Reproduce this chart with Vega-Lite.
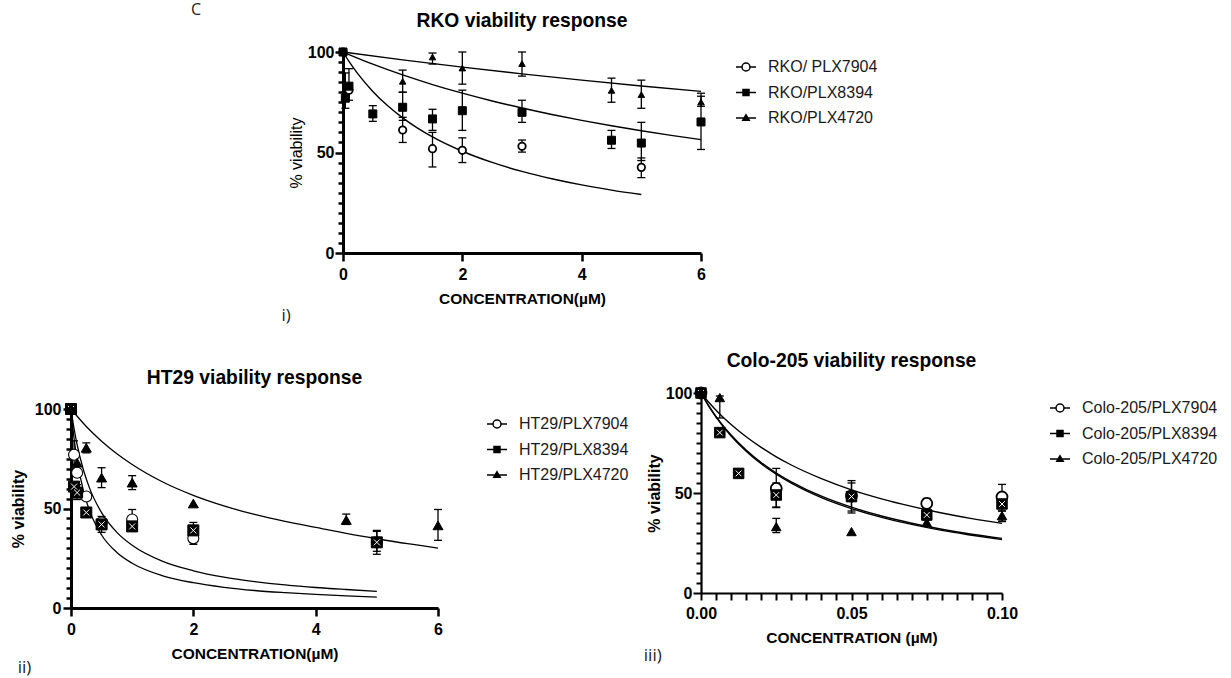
{
 "$schema": "https://vega.github.io/schema/vega-lite/v6.json",
 "background": "white",
 "padding": {"left": 10, "top": 2, "right": 0, "bottom": 0},
 "autosize": {"type": "pad"},
 "spacing": 28,
 "resolve": {"scale": {"fill": "independent"}},
 "config": {
  "view": {"stroke": null},
  "font": "Liberation Sans",
  "axis": {"domainColor": "black", "domainWidth": 3, "tickColor": "black", "tickWidth": 2.5, "labelColor": "black", "labelFont": "Liberation Sans", "labelFontWeight": "bold", "labelFontSize": 16, "titleColor": "black", "titleFont": "Liberation Sans", "titleFontWeight": "bold", "titleFontSize": 15.5, "grid": false, "labelFlush": false, "labelOverlap": false},
  "title": {"font": "Liberation Sans", "fontSize": 19.3, "fontWeight": "bold", "color": "black", "anchor": "middle", "frame": "group", "offset": 12.5},
  "legend": {"padding": 4, "symbolSize": 400, "labelOffset": 11, "rowPadding": 6.5, "labelFont": "Liberation Sans", "labelFontSize": 16, "labelColor": "#1a1a1a", "symbolStrokeColor": "black", "symbolStrokeWidth": 1.5, "symbolOpacity": 1}
 },
 "datasets": {
  "rko_pts": [
   {"s": "RKO/ PLX7904", "x": 0, "y": 100},
   {"s": "RKO/ PLX7904", "x": 0.1, "y": 81},
   {"s": "RKO/ PLX7904", "x": 1, "y": 61.2, "lo": 55, "hi": 67.5},
   {"s": "RKO/ PLX7904", "x": 1.5, "y": 51.9, "lo": 42.8, "hi": 60},
   {"s": "RKO/ PLX7904", "x": 2, "y": 51.1, "lo": 45, "hi": 57.3},
   {"s": "RKO/ PLX7904", "x": 3, "y": 53.1, "lo": 50.2, "hi": 56.2},
   {"s": "RKO/ PLX7904", "x": 5, "y": 42.6, "lo": 37.5, "hi": 47.3},
   {"s": "RKO/PLX8394", "x": 0, "y": 100},
   {"s": "RKO/PLX8394", "x": 0.04, "y": 77, "lo": 72, "hi": 89.6},
   {"s": "RKO/PLX8394", "x": 0.1, "y": 83, "lo": 76, "hi": 91.7},
   {"s": "RKO/PLX8394", "x": 0.5, "y": 69.2, "lo": 65.5, "hi": 73.3},
   {"s": "RKO/PLX8394", "x": 1, "y": 72.5, "lo": 66, "hi": 80},
   {"s": "RKO/PLX8394", "x": 1.5, "y": 66.7, "lo": 61, "hi": 71.5},
   {"s": "RKO/PLX8394", "x": 2, "y": 70.8, "lo": 61, "hi": 81},
   {"s": "RKO/PLX8394", "x": 3, "y": 70, "lo": 65, "hi": 76},
   {"s": "RKO/PLX8394", "x": 4.5, "y": 56.1, "lo": 52, "hi": 61},
   {"s": "RKO/PLX8394", "x": 5, "y": 54.7, "lo": 46, "hi": 65},
   {"s": "RKO/PLX8394", "x": 6, "y": 65.2, "lo": 51.5, "hi": 79.5},
   {"s": "RKO/PLX4720", "x": 0, "y": 100},
   {"s": "RKO/PLX4720", "x": 1, "y": 85.4, "lo": 80, "hi": 91},
   {"s": "RKO/PLX4720", "x": 1.5, "y": 97.5, "lo": 94, "hi": 99.5},
   {"s": "RKO/PLX4720", "x": 2, "y": 92, "lo": 84, "hi": 100},
   {"s": "RKO/PLX4720", "x": 3, "y": 94.2, "lo": 88, "hi": 100},
   {"s": "RKO/PLX4720", "x": 4.5, "y": 80.9, "lo": 75, "hi": 87},
   {"s": "RKO/PLX4720", "x": 5, "y": 78.8, "lo": 72, "hi": 86},
   {"s": "RKO/PLX4720", "x": 6, "y": 75.1, "lo": 73, "hi": 78}
  ],
  "rko_fit": [
   {"s": "RKO/ PLX7904", "x": 0, "y": 100}, {"s": "RKO/ PLX7904", "x": 0.1, "y": 95.35}, {"s": "RKO/ PLX7904", "x": 0.25, "y": 89.13}, {"s": "RKO/ PLX7904", "x": 0.5, "y": 80.39}, {"s": "RKO/ PLX7904", "x": 0.75, "y": 73.21}, {"s": "RKO/ PLX7904", "x": 1, "y": 67.21}, {"s": "RKO/ PLX7904", "x": 1.25, "y": 62.12}, {"s": "RKO/ PLX7904", "x": 1.5, "y": 57.75}, {"s": "RKO/ PLX7904", "x": 2, "y": 50.62}, {"s": "RKO/ PLX7904", "x": 2.5, "y": 45.05}, {"s": "RKO/ PLX7904", "x": 3, "y": 40.59}, {"s": "RKO/ PLX7904", "x": 3.5, "y": 36.94}, {"s": "RKO/ PLX7904", "x": 4, "y": 33.88}, {"s": "RKO/ PLX7904", "x": 4.5, "y": 31.3}, {"s": "RKO/ PLX7904", "x": 5, "y": 29.08},
   {"s": "RKO/PLX8394", "x": 0, "y": 100}, {"s": "RKO/PLX8394", "x": 0.5, "y": 93.95}, {"s": "RKO/PLX8394", "x": 1, "y": 88.58}, {"s": "RKO/PLX8394", "x": 1.5, "y": 83.8}, {"s": "RKO/PLX8394", "x": 2, "y": 79.51}, {"s": "RKO/PLX8394", "x": 2.5, "y": 75.63}, {"s": "RKO/PLX8394", "x": 3, "y": 72.12}, {"s": "RKO/PLX8394", "x": 3.5, "y": 68.92}, {"s": "RKO/PLX8394", "x": 4, "y": 65.99}, {"s": "RKO/PLX8394", "x": 4.5, "y": 63.3}, {"s": "RKO/PLX8394", "x": 5, "y": 60.82}, {"s": "RKO/PLX8394", "x": 5.5, "y": 58.52}, {"s": "RKO/PLX8394", "x": 6, "y": 56.4},
   {"s": "RKO/PLX4720", "x": 0, "y": 100}, {"s": "RKO/PLX4720", "x": 1, "y": 96.09}, {"s": "RKO/PLX4720", "x": 2, "y": 92.48}, {"s": "RKO/PLX4720", "x": 3, "y": 89.13}, {"s": "RKO/PLX4720", "x": 4, "y": 86.01}, {"s": "RKO/PLX4720", "x": 5, "y": 83.11}, {"s": "RKO/PLX4720", "x": 6, "y": 80.39}
  ],
  "ht_pts": [
   {"s": "HT29/PLX7904", "x": 0, "y": 100},
   {"s": "HT29/PLX7904", "x": 0.05, "y": 77, "lo": 70, "hi": 84},
   {"s": "HT29/PLX7904", "x": 0.1, "y": 68},
   {"s": "HT29/PLX7904", "x": 0.25, "y": 56},
   {"s": "HT29/PLX7904", "x": 0.5, "y": 43},
   {"s": "HT29/PLX7904", "x": 1, "y": 44.5, "lo": 41, "hi": 49.5},
   {"s": "HT29/PLX7904", "x": 2, "y": 35, "lo": 32, "hi": 38},
   {"s": "HT29/PLX7904", "x": 5, "y": 33, "lo": 27, "hi": 39},
   {"s": "HT29/PLX8394", "x": 0, "y": 100},
   {"s": "HT29/PLX8394", "x": 0.05, "y": 61},
   {"s": "HT29/PLX8394", "x": 0.1, "y": 58, "lo": 54.5, "hi": 62},
   {"s": "HT29/PLX8394", "x": 0.25, "y": 48},
   {"s": "HT29/PLX8394", "x": 0.5, "y": 42, "lo": 38, "hi": 46},
   {"s": "HT29/PLX8394", "x": 1, "y": 41},
   {"s": "HT29/PLX8394", "x": 2, "y": 39, "lo": 36, "hi": 43},
   {"s": "HT29/PLX8394", "x": 5, "y": 33, "lo": 28.5, "hi": 38.5},
   {"s": "HT29/PLX4720", "x": 0, "y": 100},
   {"s": "HT29/PLX4720", "x": 0.1, "y": 73},
   {"s": "HT29/PLX4720", "x": 0.25, "y": 80.5, "lo": 78, "hi": 83},
   {"s": "HT29/PLX4720", "x": 0.5, "y": 65.5, "lo": 60.5, "hi": 70.5},
   {"s": "HT29/PLX4720", "x": 1, "y": 63, "lo": 59.5, "hi": 66.5},
   {"s": "HT29/PLX4720", "x": 2, "y": 52.5},
   {"s": "HT29/PLX4720", "x": 4.5, "y": 44.2, "lo": 42, "hi": 47.2},
   {"s": "HT29/PLX4720", "x": 6, "y": 41.5, "lo": 34, "hi": 49.5}
  ],
  "ht_fit": [
   {"s": "HT29/PLX4720", "x": 0, "y": 100}, {"s": "HT29/PLX4720", "x": 0.25, "y": 91.2}, {"s": "HT29/PLX4720", "x": 0.5, "y": 83.8}, {"s": "HT29/PLX4720", "x": 0.75, "y": 77.5}, {"s": "HT29/PLX4720", "x": 1, "y": 72.1}, {"s": "HT29/PLX4720", "x": 1.5, "y": 63.3}, {"s": "HT29/PLX4720", "x": 2, "y": 56.6}, {"s": "HT29/PLX4720", "x": 2.5, "y": 51.3}, {"s": "HT29/PLX4720", "x": 3, "y": 47}, {"s": "HT29/PLX4720", "x": 3.5, "y": 43.5}, {"s": "HT29/PLX4720", "x": 4, "y": 40.5}, {"s": "HT29/PLX4720", "x": 4.5, "y": 37.5}, {"s": "HT29/PLX4720", "x": 5, "y": 34.8}, {"s": "HT29/PLX4720", "x": 5.5, "y": 32.3}, {"s": "HT29/PLX4720", "x": 6, "y": 30.1},
   {"s": "HT29/PLX7904", "x": 0, "y": 100}, {"s": "HT29/PLX7904", "x": 0.05, "y": 90.2}, {"s": "HT29/PLX7904", "x": 0.1, "y": 82.1}, {"s": "HT29/PLX7904", "x": 0.2, "y": 69.7}, {"s": "HT29/PLX7904", "x": 0.3, "y": 60.5}, {"s": "HT29/PLX7904", "x": 0.5, "y": 47.9}, {"s": "HT29/PLX7904", "x": 0.75, "y": 38}, {"s": "HT29/PLX7904", "x": 1, "y": 31.5}, {"s": "HT29/PLX7904", "x": 1.5, "y": 23.4}, {"s": "HT29/PLX7904", "x": 2, "y": 18.7}, {"s": "HT29/PLX7904", "x": 2.5, "y": 15.5}, {"s": "HT29/PLX7904", "x": 3, "y": 13.3}, {"s": "HT29/PLX7904", "x": 3.5, "y": 11.6}, {"s": "HT29/PLX7904", "x": 4, "y": 10.3}, {"s": "HT29/PLX7904", "x": 4.5, "y": 9.3}, {"s": "HT29/PLX7904", "x": 5, "y": 8.4},
   {"s": "HT29/PLX8394", "x": 0, "y": 100}, {"s": "HT29/PLX8394", "x": 0.05, "y": 85.3}, {"s": "HT29/PLX8394", "x": 0.1, "y": 74.4}, {"s": "HT29/PLX8394", "x": 0.2, "y": 59.2}, {"s": "HT29/PLX8394", "x": 0.3, "y": 49.2}, {"s": "HT29/PLX8394", "x": 0.5, "y": 36.7}, {"s": "HT29/PLX8394", "x": 0.75, "y": 27.9}, {"s": "HT29/PLX8394", "x": 1, "y": 22.5}, {"s": "HT29/PLX8394", "x": 1.5, "y": 16.2}, {"s": "HT29/PLX8394", "x": 2, "y": 12.7}, {"s": "HT29/PLX8394", "x": 2.5, "y": 10.4}, {"s": "HT29/PLX8394", "x": 3, "y": 8.8}, {"s": "HT29/PLX8394", "x": 3.5, "y": 7.7}, {"s": "HT29/PLX8394", "x": 4, "y": 6.8}, {"s": "HT29/PLX8394", "x": 4.5, "y": 6.1}, {"s": "HT29/PLX8394", "x": 5, "y": 5.5}
  ],
  "colo_pts": [
   {"s": "Colo-205/PLX7904", "x": 0, "y": 100},
   {"s": "Colo-205/PLX7904", "x": 0.025, "y": 52.3, "lo": 42.7, "hi": 62.3},
   {"s": "Colo-205/PLX7904", "x": 0.05, "y": 48.5, "lo": 40, "hi": 56.2},
   {"s": "Colo-205/PLX7904", "x": 0.075, "y": 44.8, "lo": 42.5, "hi": 47.3},
   {"s": "Colo-205/PLX7904", "x": 0.1, "y": 48, "lo": 41, "hi": 54.3},
   {"s": "Colo-205/PLX8394", "x": 0, "y": 100},
   {"s": "Colo-205/PLX8394", "x": 0.00625, "y": 80.2},
   {"s": "Colo-205/PLX8394", "x": 0.0125, "y": 59.8},
   {"s": "Colo-205/PLX8394", "x": 0.025, "y": 49, "lo": 43, "hi": 55},
   {"s": "Colo-205/PLX8394", "x": 0.05, "y": 48.2, "lo": 41, "hi": 55},
   {"s": "Colo-205/PLX8394", "x": 0.075, "y": 39, "lo": 36.5, "hi": 41.5},
   {"s": "Colo-205/PLX8394", "x": 0.1, "y": 44.5, "lo": 36, "hi": 47},
   {"s": "Colo-205/PLX4720", "x": 0, "y": 100},
   {"s": "Colo-205/PLX4720", "x": 0.00625, "y": 97.7, "lo": 87.5, "hi": 98.5},
   {"s": "Colo-205/PLX4720", "x": 0.025, "y": 33.2, "lo": 30.2, "hi": 37.3},
   {"s": "Colo-205/PLX4720", "x": 0.05, "y": 30.7},
   {"s": "Colo-205/PLX4720", "x": 0.075, "y": 35.3},
   {"s": "Colo-205/PLX4720", "x": 0.1, "y": 38.7, "lo": 35.7, "hi": 41}
  ],
  "colo_fit": [
   {"s": "Colo-205/PLX7904", "x": 0, "y": 100}, {"s": "Colo-205/PLX7904", "x": 0.0025, "y": 95.5}, {"s": "Colo-205/PLX7904", "x": 0.005, "y": 91.4}, {"s": "Colo-205/PLX7904", "x": 0.01, "y": 84.2}, {"s": "Colo-205/PLX7904", "x": 0.015, "y": 78.1}, {"s": "Colo-205/PLX7904", "x": 0.02, "y": 72.8}, {"s": "Colo-205/PLX7904", "x": 0.025, "y": 68.1}, {"s": "Colo-205/PLX7904", "x": 0.03, "y": 64}, {"s": "Colo-205/PLX7904", "x": 0.04, "y": 57.2}, {"s": "Colo-205/PLX7904", "x": 0.05, "y": 51.6}, {"s": "Colo-205/PLX7904", "x": 0.06, "y": 47.1}, {"s": "Colo-205/PLX7904", "x": 0.07, "y": 43.3}, {"s": "Colo-205/PLX7904", "x": 0.08, "y": 40}, {"s": "Colo-205/PLX7904", "x": 0.09, "y": 37.2}, {"s": "Colo-205/PLX7904", "x": 0.1, "y": 34.8},
   {"s": "Colo-205/PLX8394", "x": 0, "y": 100}, {"s": "Colo-205/PLX8394", "x": 0.0025, "y": 93.8}, {"s": "Colo-205/PLX8394", "x": 0.005, "y": 88.2}, {"s": "Colo-205/PLX8394", "x": 0.01, "y": 79}, {"s": "Colo-205/PLX8394", "x": 0.015, "y": 71.5}, {"s": "Colo-205/PLX8394", "x": 0.02, "y": 65.2}, {"s": "Colo-205/PLX8394", "x": 0.025, "y": 60}, {"s": "Colo-205/PLX8394", "x": 0.03, "y": 55.6}, {"s": "Colo-205/PLX8394", "x": 0.04, "y": 48.4}, {"s": "Colo-205/PLX8394", "x": 0.05, "y": 42.9}, {"s": "Colo-205/PLX8394", "x": 0.06, "y": 38.5}, {"s": "Colo-205/PLX8394", "x": 0.07, "y": 34.9}, {"s": "Colo-205/PLX8394", "x": 0.08, "y": 31.9}, {"s": "Colo-205/PLX8394", "x": 0.09, "y": 29.4}, {"s": "Colo-205/PLX8394", "x": 0.1, "y": 27.3},
   {"s": "Colo-205/PLX4720", "x": 0, "y": 100}, {"s": "Colo-205/PLX4720", "x": 0.0025, "y": 93.6}, {"s": "Colo-205/PLX4720", "x": 0.005, "y": 88}, {"s": "Colo-205/PLX4720", "x": 0.01, "y": 78.5}, {"s": "Colo-205/PLX4720", "x": 0.015, "y": 70.9}, {"s": "Colo-205/PLX4720", "x": 0.02, "y": 64.6}, {"s": "Colo-205/PLX4720", "x": 0.025, "y": 59.4}, {"s": "Colo-205/PLX4720", "x": 0.03, "y": 54.9}, {"s": "Colo-205/PLX4720", "x": 0.04, "y": 47.7}, {"s": "Colo-205/PLX4720", "x": 0.05, "y": 42.2}, {"s": "Colo-205/PLX4720", "x": 0.06, "y": 37.8}, {"s": "Colo-205/PLX4720", "x": 0.07, "y": 34.3}, {"s": "Colo-205/PLX4720", "x": 0.08, "y": 31.3}, {"s": "Colo-205/PLX4720", "x": 0.09, "y": 28.9}, {"s": "Colo-205/PLX4720", "x": 0.1, "y": 26.7}
  ]
 },
 "vconcat": [
  {
   "spacing": 80,
   "resolve": {"scale": {"fill": "independent"}},
   "hconcat": [
    {
     "width": 130, "height": 201,
     "data": {"values": [{"label": "C"}]},
     "mark": {"type": "text", "font": "Open Sans", "fontSize": 16, "align": "right", "baseline": "alphabetic", "color": "#222"},
     "encoding": {
      "text": {"field": "label"},
      "x": {"datum": 1, "type": "quantitative", "scale": {"domain": [0, 1]}, "axis": null},
      "y": {"datum": 118.4, "type": "quantitative", "scale": {"domain": [0, 100], "nice": false}, "axis": null}
     }
    },
    {
     "width": 358, "height": 201,
     "title": "RKO viability response",
     "layer": [
      {
       "data": {"name": "rko_fit"},
       "mark": {"type": "line", "color": "black", "strokeWidth": 1.4, "interpolate": "monotone"},
       "encoding": {
        "x": {"field": "x", "type": "quantitative", "scale": {"domain": [0, 6], "nice": false}, "axis": {"values": [0, 2, 4, 6], "format": "d", "tickSize": 8, "labelPadding": 5, "title": "CONCENTRATION(µM)", "titlePadding": 9.5}},
        "y": {"field": "y", "type": "quantitative", "scale": {"domain": [0, 100], "nice": false}, "axis": {"values": [0, 5, 10, 15, 20, 25, 30, 35, 40, 45, 50, 55, 60, 65, 70, 75, 80, 85, 90, 95, 100], "labelExpr": "datum.value % 50 === 0 ? datum.label : ''", "tickSize": {"condition": {"test": "datum.value % 50 === 0", "value": 8}, "value": 5}, "labelPadding": 1, "title": "% viability", "titleFontWeight": "normal", "titleFontSize": 16, "titlePadding": 3}},
        "detail": {"field": "s"}
       }
      },
      {
       "data": {"name": "rko_pts"},
       "mark": {"type": "rule", "color": "black", "strokeWidth": 1.3},
       "encoding": {
        "x": {"field": "x", "type": "quantitative", "scale": {"domain": [0, 6], "nice": false}, "axis": {"values": [0, 2, 4, 6], "format": "d", "tickSize": 8, "labelPadding": 5, "title": "CONCENTRATION(µM)", "titlePadding": 9.5}},
        "y": {"field": "lo", "type": "quantitative", "scale": {"domain": [0, 100], "nice": false}, "axis": {"values": [0, 5, 10, 15, 20, 25, 30, 35, 40, 45, 50, 55, 60, 65, 70, 75, 80, 85, 90, 95, 100], "labelExpr": "datum.value % 50 === 0 ? datum.label : ''", "tickSize": {"condition": {"test": "datum.value % 50 === 0", "value": 8}, "value": 5}, "labelPadding": 1, "title": "% viability", "titleFontWeight": "normal", "titleFontSize": 16, "titlePadding": 3}},
        "y2": {"field": "hi"}
       }
      },
      {
       "data": {"name": "rko_pts"},
       "mark": {"type": "tick", "orient": "horizontal", "size": 8, "thickness": 1.3, "color": "black", "opacity": 1},
       "encoding": {
        "x": {"field": "x", "type": "quantitative", "scale": {"domain": [0, 6], "nice": false}, "axis": {"values": [0, 2, 4, 6], "format": "d", "tickSize": 8, "labelPadding": 5, "title": "CONCENTRATION(µM)", "titlePadding": 9.5}},
        "y": {"field": "lo", "type": "quantitative", "scale": {"domain": [0, 100], "nice": false}, "axis": {"values": [0, 5, 10, 15, 20, 25, 30, 35, 40, 45, 50, 55, 60, 65, 70, 75, 80, 85, 90, 95, 100], "labelExpr": "datum.value % 50 === 0 ? datum.label : ''", "tickSize": {"condition": {"test": "datum.value % 50 === 0", "value": 8}, "value": 5}, "labelPadding": 1, "title": "% viability", "titleFontWeight": "normal", "titleFontSize": 16, "titlePadding": 3}}
       }
      },
      {
       "data": {"name": "rko_pts"},
       "mark": {"type": "tick", "orient": "horizontal", "size": 8, "thickness": 1.3, "color": "black", "opacity": 1},
       "encoding": {
        "x": {"field": "x", "type": "quantitative", "scale": {"domain": [0, 6], "nice": false}, "axis": {"values": [0, 2, 4, 6], "format": "d", "tickSize": 8, "labelPadding": 5, "title": "CONCENTRATION(µM)", "titlePadding": 9.5}},
        "y": {"field": "hi", "type": "quantitative", "scale": {"domain": [0, 100], "nice": false}, "axis": {"values": [0, 5, 10, 15, 20, 25, 30, 35, 40, 45, 50, 55, 60, 65, 70, 75, 80, 85, 90, 95, 100], "labelExpr": "datum.value % 50 === 0 ? datum.label : ''", "tickSize": {"condition": {"test": "datum.value % 50 === 0", "value": 8}, "value": 5}, "labelPadding": 1, "title": "% viability", "titleFontWeight": "normal", "titleFontSize": 16, "titlePadding": 3}}
       }
      },
      {
       "data": {"name": "rko_pts"},
       "transform": [{"filter": {"field": "s", "equal": "RKO/ PLX7904"}}],
       "mark": {"type": "point", "shape": "circle", "filled": true, "size": 55, "stroke": "black", "strokeWidth": 1.8, "opacity": 1},
       "encoding": {
        "x": {"field": "x", "type": "quantitative", "scale": {"domain": [0, 6], "nice": false}, "axis": {"values": [0, 2, 4, 6], "format": "d", "tickSize": 8, "labelPadding": 5, "title": "CONCENTRATION(µM)", "titlePadding": 9.5}},
        "y": {"field": "y", "type": "quantitative", "scale": {"domain": [0, 100], "nice": false}, "axis": {"values": [0, 5, 10, 15, 20, 25, 30, 35, 40, 45, 50, 55, 60, 65, 70, 75, 80, 85, 90, 95, 100], "labelExpr": "datum.value % 50 === 0 ? datum.label : ''", "tickSize": {"condition": {"test": "datum.value % 50 === 0", "value": 8}, "value": 5}, "labelPadding": 1, "title": "% viability", "titleFontWeight": "normal", "titleFontSize": 16, "titlePadding": 3}},
        "fill": {"field": "s", "type": "nominal", "scale": {"domain": ["RKO/ PLX7904", "RKO/PLX8394", "RKO/PLX4720"], "range": ["white", "black", "black"]},
         "legend": {"title": null, "orient": "right", "offset": 27, "encode": {"symbols": {"update": {"shape": {"signal": "indexof(datum.value,'7904')>=0 ? 'M-1,0H-0.4M0.4,0H1M-0.4,0A0.4,0.4 0 1,0 0.4,0A0.4,0.4 0 1,0 -0.4,0Z' : indexof(datum.value,'8394')>=0 ? 'M-1,0H1M-0.3,-0.3H0.3V0.3H-0.3Z' : 'M-1,0H1M0,-0.32L0.32,0.22H-0.32Z'"}, "size": {"value": 400}, "stroke": {"value": "black"}, "strokeWidth": {"value": 1.5}}}}}}
       }
      },
      {
       "data": {"name": "rko_pts"},
       "transform": [{"filter": {"field": "s", "equal": "RKO/PLX8394"}}],
       "mark": {"type": "point", "shape": "square", "filled": true, "fill": "black", "size": 64, "stroke": "black", "strokeWidth": 1, "opacity": 1},
       "encoding": {
        "x": {"field": "x", "type": "quantitative", "scale": {"domain": [0, 6], "nice": false}, "axis": {"values": [0, 2, 4, 6], "format": "d", "tickSize": 8, "labelPadding": 5, "title": "CONCENTRATION(µM)", "titlePadding": 9.5}},
        "y": {"field": "y", "type": "quantitative", "scale": {"domain": [0, 100], "nice": false}, "axis": {"values": [0, 5, 10, 15, 20, 25, 30, 35, 40, 45, 50, 55, 60, 65, 70, 75, 80, 85, 90, 95, 100], "labelExpr": "datum.value % 50 === 0 ? datum.label : ''", "tickSize": {"condition": {"test": "datum.value % 50 === 0", "value": 8}, "value": 5}, "labelPadding": 1, "title": "% viability", "titleFontWeight": "normal", "titleFontSize": 16, "titlePadding": 3}}
       }
      },
      {
       "data": {"name": "rko_pts"},
       "transform": [{"filter": {"field": "s", "equal": "RKO/PLX4720"}}],
       "mark": {"type": "point", "shape": "triangle-up", "filled": true, "fill": "black", "size": 42, "stroke": "black", "strokeWidth": 1, "opacity": 1},
       "encoding": {
        "x": {"field": "x", "type": "quantitative", "scale": {"domain": [0, 6], "nice": false}, "axis": {"values": [0, 2, 4, 6], "format": "d", "tickSize": 8, "labelPadding": 5, "title": "CONCENTRATION(µM)", "titlePadding": 9.5}},
        "y": {"field": "y", "type": "quantitative", "scale": {"domain": [0, 100], "nice": false}, "axis": {"values": [0, 5, 10, 15, 20, 25, 30, 35, 40, 45, 50, 55, 60, 65, 70, 75, 80, 85, 90, 95, 100], "labelExpr": "datum.value % 50 === 0 ? datum.label : ''", "tickSize": {"condition": {"test": "datum.value % 50 === 0", "value": 8}, "value": 5}, "labelPadding": 1, "title": "% viability", "titleFontWeight": "normal", "titleFontSize": 16, "titlePadding": 3}}
       }
      },
      {
       "data": {"values": [{"label": "i)"}]},
       "mark": {"type": "text", "font": "Open Sans", "fontSize": 17, "align": "left", "baseline": "middle", "color": "#222"},
       "encoding": {
        "text": {"field": "label"},
        "x": {"datum": -1.03, "type": "quantitative", "scale": {"domain": [0, 6], "nice": false}, "axis": {"values": [0, 2, 4, 6], "format": "d", "tickSize": 8, "labelPadding": 5, "title": "CONCENTRATION(µM)", "titlePadding": 9.5}},
        "y": {"datum": -31.2, "type": "quantitative", "scale": {"domain": [0, 100], "nice": false}, "axis": {"values": [0, 5, 10, 15, 20, 25, 30, 35, 40, 45, 50, 55, 60, 65, 70, 75, 80, 85, 90, 95, 100], "labelExpr": "datum.value % 50 === 0 ? datum.label : ''", "tickSize": {"condition": {"test": "datum.value % 50 === 0", "value": 8}, "value": 5}, "labelPadding": 1, "title": "% viability", "titleFontWeight": "normal", "titleFontSize": 16, "titlePadding": 3}}
       }
      }
     ]
    }
   ]
  },
  {
   "spacing": 10,
   "resolve": {"scale": {"fill": "independent"}},
   "hconcat": [
    {
     "width": 367, "height": 199,
     "title": "HT29 viability response",
     "layer": [
      {
       "data": {"name": "ht_fit"},
       "mark": {"type": "line", "color": "black", "strokeWidth": 1.3, "interpolate": "monotone"},
       "encoding": {
        "x": {"field": "x", "type": "quantitative", "scale": {"domain": [0, 6], "nice": false}, "axis": {"values": [0, 2, 4, 6], "format": "d", "tickSize": 8, "labelPadding": 5, "title": "CONCENTRATION(µM)", "titlePadding": 9.5}},
        "y": {"field": "y", "type": "quantitative", "scale": {"domain": [0, 100], "nice": false}, "axis": {"values": [0, 5, 10, 15, 20, 25, 30, 35, 40, 45, 50, 55, 60, 65, 70, 75, 80, 85, 90, 95, 100], "labelExpr": "datum.value % 50 === 0 ? datum.label : ''", "tickSize": {"condition": {"test": "datum.value % 50 === 0", "value": 8}, "value": 5}, "labelPadding": 2, "title": "% viability", "titleFontSize": 16, "titlePadding": 8}},
        "detail": {"field": "s"}
       }
      },
      {
       "data": {"name": "ht_pts"},
       "mark": {"type": "rule", "color": "black", "strokeWidth": 1.3},
       "encoding": {
        "x": {"field": "x", "type": "quantitative", "scale": {"domain": [0, 6], "nice": false}, "axis": {"values": [0, 2, 4, 6], "format": "d", "tickSize": 8, "labelPadding": 5, "title": "CONCENTRATION(µM)", "titlePadding": 9.5}},
        "y": {"field": "lo", "type": "quantitative", "scale": {"domain": [0, 100], "nice": false}, "axis": {"values": [0, 5, 10, 15, 20, 25, 30, 35, 40, 45, 50, 55, 60, 65, 70, 75, 80, 85, 90, 95, 100], "labelExpr": "datum.value % 50 === 0 ? datum.label : ''", "tickSize": {"condition": {"test": "datum.value % 50 === 0", "value": 8}, "value": 5}, "labelPadding": 2, "title": "% viability", "titleFontSize": 16, "titlePadding": 8}},
        "y2": {"field": "hi"}
       }
      },
      {
       "data": {"name": "ht_pts"},
       "mark": {"type": "tick", "orient": "horizontal", "size": 8, "thickness": 1.3, "color": "black", "opacity": 1},
       "encoding": {
        "x": {"field": "x", "type": "quantitative", "scale": {"domain": [0, 6], "nice": false}, "axis": {"values": [0, 2, 4, 6], "format": "d", "tickSize": 8, "labelPadding": 5, "title": "CONCENTRATION(µM)", "titlePadding": 9.5}},
        "y": {"field": "lo", "type": "quantitative", "scale": {"domain": [0, 100], "nice": false}, "axis": {"values": [0, 5, 10, 15, 20, 25, 30, 35, 40, 45, 50, 55, 60, 65, 70, 75, 80, 85, 90, 95, 100], "labelExpr": "datum.value % 50 === 0 ? datum.label : ''", "tickSize": {"condition": {"test": "datum.value % 50 === 0", "value": 8}, "value": 5}, "labelPadding": 2, "title": "% viability", "titleFontSize": 16, "titlePadding": 8}}
       }
      },
      {
       "data": {"name": "ht_pts"},
       "mark": {"type": "tick", "orient": "horizontal", "size": 8, "thickness": 1.3, "color": "black", "opacity": 1},
       "encoding": {
        "x": {"field": "x", "type": "quantitative", "scale": {"domain": [0, 6], "nice": false}, "axis": {"values": [0, 2, 4, 6], "format": "d", "tickSize": 8, "labelPadding": 5, "title": "CONCENTRATION(µM)", "titlePadding": 9.5}},
        "y": {"field": "hi", "type": "quantitative", "scale": {"domain": [0, 100], "nice": false}, "axis": {"values": [0, 5, 10, 15, 20, 25, 30, 35, 40, 45, 50, 55, 60, 65, 70, 75, 80, 85, 90, 95, 100], "labelExpr": "datum.value % 50 === 0 ? datum.label : ''", "tickSize": {"condition": {"test": "datum.value % 50 === 0", "value": 8}, "value": 5}, "labelPadding": 2, "title": "% viability", "titleFontSize": 16, "titlePadding": 8}}
       }
      },
      {
       "data": {"name": "ht_pts"},
       "transform": [{"filter": {"field": "s", "equal": "HT29/PLX7904"}}],
       "mark": {"type": "point", "shape": "circle", "filled": true, "size": 121, "stroke": "black", "strokeWidth": 1.1, "opacity": 1},
       "encoding": {
        "x": {"field": "x", "type": "quantitative", "scale": {"domain": [0, 6], "nice": false}, "axis": {"values": [0, 2, 4, 6], "format": "d", "tickSize": 8, "labelPadding": 5, "title": "CONCENTRATION(µM)", "titlePadding": 9.5}},
        "y": {"field": "y", "type": "quantitative", "scale": {"domain": [0, 100], "nice": false}, "axis": {"values": [0, 5, 10, 15, 20, 25, 30, 35, 40, 45, 50, 55, 60, 65, 70, 75, 80, 85, 90, 95, 100], "labelExpr": "datum.value % 50 === 0 ? datum.label : ''", "tickSize": {"condition": {"test": "datum.value % 50 === 0", "value": 8}, "value": 5}, "labelPadding": 2, "title": "% viability", "titleFontSize": 16, "titlePadding": 8}},
        "fill": {"field": "s", "type": "nominal", "scale": {"domain": ["HT29/PLX7904", "HT29/PLX8394", "HT29/PLX4720"], "range": ["white", "black", "black"]},
         "legend": {"title": null, "orient": "right", "offset": 41, "encode": {"symbols": {"update": {"shape": {"signal": "indexof(datum.value,'7904')>=0 ? 'M-1,0H-0.4M0.4,0H1M-0.4,0A0.4,0.4 0 1,0 0.4,0A0.4,0.4 0 1,0 -0.4,0Z' : indexof(datum.value,'8394')>=0 ? 'M-1,0H1M-0.3,-0.3H0.3V0.3H-0.3Z' : 'M-1,0H1M0,-0.32L0.32,0.22H-0.32Z'"}, "size": {"value": 400}, "stroke": {"value": "black"}, "strokeWidth": {"value": 1.5}}}}}}
       }
      },
      {
       "data": {"name": "ht_pts"},
       "transform": [{"filter": {"field": "s", "equal": "HT29/PLX8394"}}],
       "mark": {"type": "point", "shape": "square", "filled": true, "fill": "black", "size": 121, "stroke": "black", "strokeWidth": 1, "opacity": 1},
       "encoding": {
        "x": {"field": "x", "type": "quantitative", "scale": {"domain": [0, 6], "nice": false}, "axis": {"values": [0, 2, 4, 6], "format": "d", "tickSize": 8, "labelPadding": 5, "title": "CONCENTRATION(µM)", "titlePadding": 9.5}},
        "y": {"field": "y", "type": "quantitative", "scale": {"domain": [0, 100], "nice": false}, "axis": {"values": [0, 5, 10, 15, 20, 25, 30, 35, 40, 45, 50, 55, 60, 65, 70, 75, 80, 85, 90, 95, 100], "labelExpr": "datum.value % 50 === 0 ? datum.label : ''", "tickSize": {"condition": {"test": "datum.value % 50 === 0", "value": 8}, "value": 5}, "labelPadding": 2, "title": "% viability", "titleFontSize": 16, "titlePadding": 8}}
       }
      },
      {
       "data": {"name": "ht_pts"},
       "transform": [{"filter": {"field": "s", "equal": "HT29/PLX8394"}}],
       "mark": {"type": "point", "shape": "M-0.55,-0.55L0.55,0.55M0.55,-0.55L-0.55,0.55", "size": 121, "stroke": "white", "strokeWidth": 1, "filled": false, "opacity": 1},
       "encoding": {
        "x": {"field": "x", "type": "quantitative", "scale": {"domain": [0, 6], "nice": false}, "axis": {"values": [0, 2, 4, 6], "format": "d", "tickSize": 8, "labelPadding": 5, "title": "CONCENTRATION(µM)", "titlePadding": 9.5}},
        "y": {"field": "y", "type": "quantitative", "scale": {"domain": [0, 100], "nice": false}, "axis": {"values": [0, 5, 10, 15, 20, 25, 30, 35, 40, 45, 50, 55, 60, 65, 70, 75, 80, 85, 90, 95, 100], "labelExpr": "datum.value % 50 === 0 ? datum.label : ''", "tickSize": {"condition": {"test": "datum.value % 50 === 0", "value": 8}, "value": 5}, "labelPadding": 2, "title": "% viability", "titleFontSize": 16, "titlePadding": 8}}
       }
      },
      {
       "data": {"name": "ht_pts"},
       "transform": [{"filter": {"field": "s", "equal": "HT29/PLX4720"}}],
       "mark": {"type": "point", "shape": "triangle-up", "filled": true, "fill": "black", "size": 100, "stroke": "black", "strokeWidth": 1, "opacity": 1},
       "encoding": {
        "x": {"field": "x", "type": "quantitative", "scale": {"domain": [0, 6], "nice": false}, "axis": {"values": [0, 2, 4, 6], "format": "d", "tickSize": 8, "labelPadding": 5, "title": "CONCENTRATION(µM)", "titlePadding": 9.5}},
        "y": {"field": "y", "type": "quantitative", "scale": {"domain": [0, 100], "nice": false}, "axis": {"values": [0, 5, 10, 15, 20, 25, 30, 35, 40, 45, 50, 55, 60, 65, 70, 75, 80, 85, 90, 95, 100], "labelExpr": "datum.value % 50 === 0 ? datum.label : ''", "tickSize": {"condition": {"test": "datum.value % 50 === 0", "value": 8}, "value": 5}, "labelPadding": 2, "title": "% viability", "titleFontSize": 16, "titlePadding": 8}}
       }
      },
      {
       "data": {"values": [{"label": "ii)"}]},
       "mark": {"type": "text", "font": "Open Sans", "fontSize": 17, "align": "left", "baseline": "middle", "color": "#222"},
       "encoding": {
        "text": {"field": "label"},
        "x": {"datum": -0.87, "type": "quantitative", "scale": {"domain": [0, 6], "nice": false}, "axis": {"values": [0, 2, 4, 6], "format": "d", "tickSize": 8, "labelPadding": 5, "title": "CONCENTRATION(µM)", "titlePadding": 9.5}},
        "y": {"datum": -30.2, "type": "quantitative", "scale": {"domain": [0, 100], "nice": false}, "axis": {"values": [0, 5, 10, 15, 20, 25, 30, 35, 40, 45, 50, 55, 60, 65, 70, 75, 80, 85, 90, 95, 100], "labelExpr": "datum.value % 50 === 0 ? datum.label : ''", "tickSize": {"condition": {"test": "datum.value % 50 === 0", "value": 8}, "value": 5}, "labelPadding": 2, "title": "% viability", "titleFontSize": 16, "titlePadding": 8}}
       }
      }
     ]
    },
    {
     "width": 301, "height": 184,
     "title": "Colo-205 viability response",
     "layer": [
      {
       "data": {"name": "colo_fit"},
       "mark": {"type": "line", "color": "black", "strokeWidth": 1.4, "interpolate": "monotone"},
       "encoding": {
        "x": {"field": "x", "type": "quantitative", "scale": {"domain": [0, 0.1], "nice": false}, "axis": {"values": [0, 0.005, 0.01, 0.015, 0.02, 0.025, 0.03, 0.035, 0.04, 0.045, 0.05, 0.055, 0.06, 0.065, 0.07, 0.075, 0.08, 0.085, 0.09, 0.095, 0.1], "labelExpr": "abs(datum.value*20 - round(datum.value*20)) < 0.001 ? format(datum.value, '.2f') : ''", "tickSize": 7, "tickWidth": 2, "domainWidth": 2.2, "labelPadding": 5, "title": "CONCENTRATION (µM)", "titlePadding": 9}},
        "y": {"field": "y", "type": "quantitative", "scale": {"domain": [0, 100], "nice": false, "range": [184, -16]}, "axis": {"values": [0, 5, 10, 15, 20, 25, 30, 35, 40, 45, 50, 55, 60, 65, 70, 75, 80, 85, 90, 95, 100], "labelExpr": "datum.value % 50 === 0 ? datum.label : ''", "tickSize": {"condition": {"test": "datum.value % 50 === 0", "value": 8}, "value": 5}, "tickWidth": 2, "domainWidth": 2.2, "labelPadding": 1, "title": "% viability", "titleFontSize": 16, "titlePadding": 3}},
        "detail": {"field": "s"}
       }
      },
      {
       "data": {"name": "colo_pts"},
       "mark": {"type": "rule", "color": "black", "strokeWidth": 1.3},
       "encoding": {
        "x": {"field": "x", "type": "quantitative", "scale": {"domain": [0, 0.1], "nice": false}, "axis": {"values": [0, 0.005, 0.01, 0.015, 0.02, 0.025, 0.03, 0.035, 0.04, 0.045, 0.05, 0.055, 0.06, 0.065, 0.07, 0.075, 0.08, 0.085, 0.09, 0.095, 0.1], "labelExpr": "abs(datum.value*20 - round(datum.value*20)) < 0.001 ? format(datum.value, '.2f') : ''", "tickSize": 7, "tickWidth": 2, "domainWidth": 2.2, "labelPadding": 5, "title": "CONCENTRATION (µM)", "titlePadding": 9}},
        "y": {"field": "lo", "type": "quantitative", "scale": {"domain": [0, 100], "nice": false, "range": [184, -16]}, "axis": {"values": [0, 5, 10, 15, 20, 25, 30, 35, 40, 45, 50, 55, 60, 65, 70, 75, 80, 85, 90, 95, 100], "labelExpr": "datum.value % 50 === 0 ? datum.label : ''", "tickSize": {"condition": {"test": "datum.value % 50 === 0", "value": 8}, "value": 5}, "tickWidth": 2, "domainWidth": 2.2, "labelPadding": 1, "title": "% viability", "titleFontSize": 16, "titlePadding": 3}},
        "y2": {"field": "hi"}
       }
      },
      {
       "data": {"name": "colo_pts"},
       "mark": {"type": "tick", "orient": "horizontal", "size": 8, "thickness": 1.3, "color": "black", "opacity": 1},
       "encoding": {
        "x": {"field": "x", "type": "quantitative", "scale": {"domain": [0, 0.1], "nice": false}, "axis": {"values": [0, 0.005, 0.01, 0.015, 0.02, 0.025, 0.03, 0.035, 0.04, 0.045, 0.05, 0.055, 0.06, 0.065, 0.07, 0.075, 0.08, 0.085, 0.09, 0.095, 0.1], "labelExpr": "abs(datum.value*20 - round(datum.value*20)) < 0.001 ? format(datum.value, '.2f') : ''", "tickSize": 7, "tickWidth": 2, "domainWidth": 2.2, "labelPadding": 5, "title": "CONCENTRATION (µM)", "titlePadding": 9}},
        "y": {"field": "lo", "type": "quantitative", "scale": {"domain": [0, 100], "nice": false, "range": [184, -16]}, "axis": {"values": [0, 5, 10, 15, 20, 25, 30, 35, 40, 45, 50, 55, 60, 65, 70, 75, 80, 85, 90, 95, 100], "labelExpr": "datum.value % 50 === 0 ? datum.label : ''", "tickSize": {"condition": {"test": "datum.value % 50 === 0", "value": 8}, "value": 5}, "tickWidth": 2, "domainWidth": 2.2, "labelPadding": 1, "title": "% viability", "titleFontSize": 16, "titlePadding": 3}}
       }
      },
      {
       "data": {"name": "colo_pts"},
       "mark": {"type": "tick", "orient": "horizontal", "size": 8, "thickness": 1.3, "color": "black", "opacity": 1},
       "encoding": {
        "x": {"field": "x", "type": "quantitative", "scale": {"domain": [0, 0.1], "nice": false}, "axis": {"values": [0, 0.005, 0.01, 0.015, 0.02, 0.025, 0.03, 0.035, 0.04, 0.045, 0.05, 0.055, 0.06, 0.065, 0.07, 0.075, 0.08, 0.085, 0.09, 0.095, 0.1], "labelExpr": "abs(datum.value*20 - round(datum.value*20)) < 0.001 ? format(datum.value, '.2f') : ''", "tickSize": 7, "tickWidth": 2, "domainWidth": 2.2, "labelPadding": 5, "title": "CONCENTRATION (µM)", "titlePadding": 9}},
        "y": {"field": "hi", "type": "quantitative", "scale": {"domain": [0, 100], "nice": false, "range": [184, -16]}, "axis": {"values": [0, 5, 10, 15, 20, 25, 30, 35, 40, 45, 50, 55, 60, 65, 70, 75, 80, 85, 90, 95, 100], "labelExpr": "datum.value % 50 === 0 ? datum.label : ''", "tickSize": {"condition": {"test": "datum.value % 50 === 0", "value": 8}, "value": 5}, "tickWidth": 2, "domainWidth": 2.2, "labelPadding": 1, "title": "% viability", "titleFontSize": 16, "titlePadding": 3}}
       }
      },
      {
       "data": {"name": "colo_pts"},
       "transform": [{"filter": {"field": "s", "equal": "Colo-205/PLX7904"}}],
       "mark": {"type": "point", "shape": "circle", "filled": true, "size": 120, "stroke": "black", "strokeWidth": 1.8, "opacity": 1},
       "encoding": {
        "x": {"field": "x", "type": "quantitative", "scale": {"domain": [0, 0.1], "nice": false}, "axis": {"values": [0, 0.005, 0.01, 0.015, 0.02, 0.025, 0.03, 0.035, 0.04, 0.045, 0.05, 0.055, 0.06, 0.065, 0.07, 0.075, 0.08, 0.085, 0.09, 0.095, 0.1], "labelExpr": "abs(datum.value*20 - round(datum.value*20)) < 0.001 ? format(datum.value, '.2f') : ''", "tickSize": 7, "tickWidth": 2, "domainWidth": 2.2, "labelPadding": 5, "title": "CONCENTRATION (µM)", "titlePadding": 9}},
        "y": {"field": "y", "type": "quantitative", "scale": {"domain": [0, 100], "nice": false, "range": [184, -16]}, "axis": {"values": [0, 5, 10, 15, 20, 25, 30, 35, 40, 45, 50, 55, 60, 65, 70, 75, 80, 85, 90, 95, 100], "labelExpr": "datum.value % 50 === 0 ? datum.label : ''", "tickSize": {"condition": {"test": "datum.value % 50 === 0", "value": 8}, "value": 5}, "tickWidth": 2, "domainWidth": 2.2, "labelPadding": 1, "title": "% viability", "titleFontSize": 16, "titlePadding": 3}},
        "fill": {"field": "s", "type": "nominal", "scale": {"domain": ["Colo-205/PLX7904", "Colo-205/PLX8394", "Colo-205/PLX4720"], "range": ["white", "black", "black"]},
         "legend": {"title": null, "orient": "none", "legendX": 344, "legendY": -16, "encode": {"symbols": {"update": {"shape": {"signal": "indexof(datum.value,'7904')>=0 ? 'M-1,0H-0.4M0.4,0H1M-0.4,0A0.4,0.4 0 1,0 0.4,0A0.4,0.4 0 1,0 -0.4,0Z' : indexof(datum.value,'8394')>=0 ? 'M-1,0H1M-0.3,-0.3H0.3V0.3H-0.3Z' : 'M-1,0H1M0,-0.32L0.32,0.22H-0.32Z'"}, "size": {"value": 400}, "stroke": {"value": "black"}, "strokeWidth": {"value": 1.5}}}}}}
       }
      },
      {
       "data": {"name": "colo_pts"},
       "transform": [{"filter": {"field": "s", "equal": "Colo-205/PLX8394"}}],
       "mark": {"type": "point", "shape": "square", "filled": true, "fill": "black", "size": 110, "stroke": "black", "strokeWidth": 1, "opacity": 1},
       "encoding": {
        "x": {"field": "x", "type": "quantitative", "scale": {"domain": [0, 0.1], "nice": false}, "axis": {"values": [0, 0.005, 0.01, 0.015, 0.02, 0.025, 0.03, 0.035, 0.04, 0.045, 0.05, 0.055, 0.06, 0.065, 0.07, 0.075, 0.08, 0.085, 0.09, 0.095, 0.1], "labelExpr": "abs(datum.value*20 - round(datum.value*20)) < 0.001 ? format(datum.value, '.2f') : ''", "tickSize": 7, "tickWidth": 2, "domainWidth": 2.2, "labelPadding": 5, "title": "CONCENTRATION (µM)", "titlePadding": 9}},
        "y": {"field": "y", "type": "quantitative", "scale": {"domain": [0, 100], "nice": false, "range": [184, -16]}, "axis": {"values": [0, 5, 10, 15, 20, 25, 30, 35, 40, 45, 50, 55, 60, 65, 70, 75, 80, 85, 90, 95, 100], "labelExpr": "datum.value % 50 === 0 ? datum.label : ''", "tickSize": {"condition": {"test": "datum.value % 50 === 0", "value": 8}, "value": 5}, "tickWidth": 2, "domainWidth": 2.2, "labelPadding": 1, "title": "% viability", "titleFontSize": 16, "titlePadding": 3}}
       }
      },
      {
       "data": {"name": "colo_pts"},
       "transform": [{"filter": {"field": "s", "equal": "Colo-205/PLX8394"}}],
       "mark": {"type": "point", "shape": "M-0.55,-0.55L0.55,0.55M0.55,-0.55L-0.55,0.55", "size": 110, "stroke": "white", "strokeWidth": 1, "filled": false, "opacity": 1},
       "encoding": {
        "x": {"field": "x", "type": "quantitative", "scale": {"domain": [0, 0.1], "nice": false}, "axis": {"values": [0, 0.005, 0.01, 0.015, 0.02, 0.025, 0.03, 0.035, 0.04, 0.045, 0.05, 0.055, 0.06, 0.065, 0.07, 0.075, 0.08, 0.085, 0.09, 0.095, 0.1], "labelExpr": "abs(datum.value*20 - round(datum.value*20)) < 0.001 ? format(datum.value, '.2f') : ''", "tickSize": 7, "tickWidth": 2, "domainWidth": 2.2, "labelPadding": 5, "title": "CONCENTRATION (µM)", "titlePadding": 9}},
        "y": {"field": "y", "type": "quantitative", "scale": {"domain": [0, 100], "nice": false, "range": [184, -16]}, "axis": {"values": [0, 5, 10, 15, 20, 25, 30, 35, 40, 45, 50, 55, 60, 65, 70, 75, 80, 85, 90, 95, 100], "labelExpr": "datum.value % 50 === 0 ? datum.label : ''", "tickSize": {"condition": {"test": "datum.value % 50 === 0", "value": 8}, "value": 5}, "tickWidth": 2, "domainWidth": 2.2, "labelPadding": 1, "title": "% viability", "titleFontSize": 16, "titlePadding": 3}}
       }
      },
      {
       "data": {"name": "colo_pts"},
       "transform": [{"filter": {"field": "s", "equal": "Colo-205/PLX4720"}}],
       "mark": {"type": "point", "shape": "triangle-up", "filled": true, "fill": "black", "size": 90, "stroke": "black", "strokeWidth": 1, "opacity": 1},
       "encoding": {
        "x": {"field": "x", "type": "quantitative", "scale": {"domain": [0, 0.1], "nice": false}, "axis": {"values": [0, 0.005, 0.01, 0.015, 0.02, 0.025, 0.03, 0.035, 0.04, 0.045, 0.05, 0.055, 0.06, 0.065, 0.07, 0.075, 0.08, 0.085, 0.09, 0.095, 0.1], "labelExpr": "abs(datum.value*20 - round(datum.value*20)) < 0.001 ? format(datum.value, '.2f') : ''", "tickSize": 7, "tickWidth": 2, "domainWidth": 2.2, "labelPadding": 5, "title": "CONCENTRATION (µM)", "titlePadding": 9}},
        "y": {"field": "y", "type": "quantitative", "scale": {"domain": [0, 100], "nice": false, "range": [184, -16]}, "axis": {"values": [0, 5, 10, 15, 20, 25, 30, 35, 40, 45, 50, 55, 60, 65, 70, 75, 80, 85, 90, 95, 100], "labelExpr": "datum.value % 50 === 0 ? datum.label : ''", "tickSize": {"condition": {"test": "datum.value % 50 === 0", "value": 8}, "value": 5}, "tickWidth": 2, "domainWidth": 2.2, "labelPadding": 1, "title": "% viability", "titleFontSize": 16, "titlePadding": 3}}
       }
      },
      {
       "data": {"values": [{"label": "iii)"}]},
       "mark": {"type": "text", "font": "Open Sans", "fontSize": 17, "align": "left", "baseline": "middle", "color": "#222"},
       "encoding": {
        "text": {"field": "label"},
        "x": {"datum": -0.019, "type": "quantitative", "scale": {"domain": [0, 0.1], "nice": false}, "axis": {"values": [0, 0.005, 0.01, 0.015, 0.02, 0.025, 0.03, 0.035, 0.04, 0.045, 0.05, 0.055, 0.06, 0.065, 0.07, 0.075, 0.08, 0.085, 0.09, 0.095, 0.1], "labelExpr": "abs(datum.value*20 - round(datum.value*20)) < 0.001 ? format(datum.value, '.2f') : ''", "tickSize": 7, "tickWidth": 2, "domainWidth": 2.2, "labelPadding": 5, "title": "CONCENTRATION (µM)", "titlePadding": 9}},
        "y": {"datum": -31.5, "type": "quantitative", "scale": {"domain": [0, 100], "nice": false, "range": [184, -16]}, "axis": {"values": [0, 5, 10, 15, 20, 25, 30, 35, 40, 45, 50, 55, 60, 65, 70, 75, 80, 85, 90, 95, 100], "labelExpr": "datum.value % 50 === 0 ? datum.label : ''", "tickSize": {"condition": {"test": "datum.value % 50 === 0", "value": 8}, "value": 5}, "tickWidth": 2, "domainWidth": 2.2, "labelPadding": 1, "title": "% viability", "titleFontSize": 16, "titlePadding": 3}}
       }
      }
     ]
    }
   ]
  }
 ]
}
